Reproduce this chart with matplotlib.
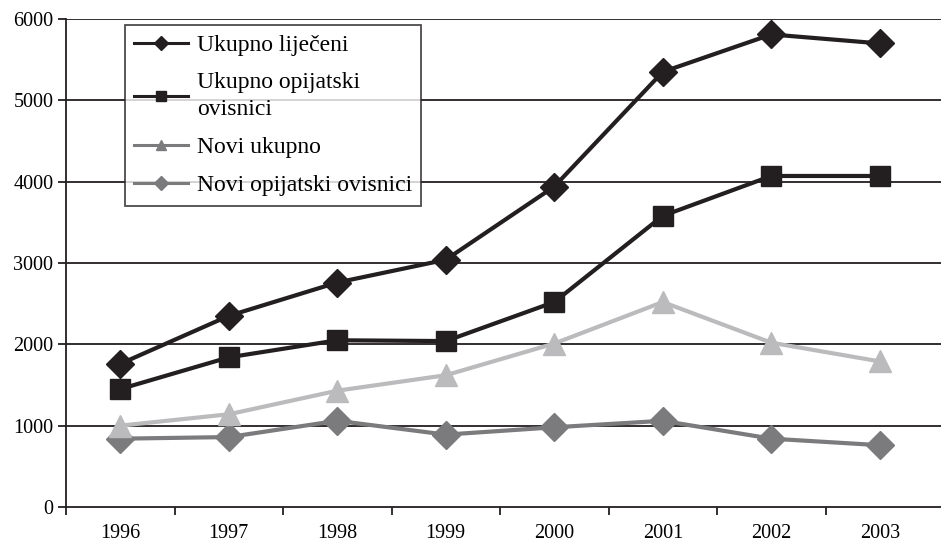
import matplotlib
matplotlib.use("Agg")
import matplotlib.pyplot as plt
from matplotlib.ticker import FixedLocator, NullFormatter
from matplotlib.lines import Line2D

years = ["1996", "1997", "1998", "1999", "2000", "2001", "2002", "2003"]
ukupno_lijeceni = [1760, 2350, 2760, 3040, 3940, 5350, 5810, 5700]
ukupno_opijatski = [1450, 1840, 2050, 2040, 2520, 3580, 4070, 4070]
novi_ukupno = [1000, 1140, 1430, 1620, 2010, 2520, 2020, 1790]
novi_opijatski = [840, 860, 1060, 890, 980, 1060, 840, 760]
yticks = [0, 1000, 2000, 3000, 4000, 5000, 6000]

plt.rcParams['font.family'] = ['Liberation Serif', 'DejaVu Serif']

fig = plt.figure(figsize=(9.41, 5.42), dpi=100)
ax = fig.add_axes([66/941, 1-507/542, 1-66/941, (507-19)/542])

black = '#231f20'
light = '#bbbbbd'
dark = '#7b7b7d'
x = list(range(len(years)))

for yv in yticks[1:]:
    ax.axhline(yv, color=black, lw=1.3, zorder=1)

lw = 3.0
ax.plot(x, novi_opijatski, color=dark, lw=lw, marker='D', ms=14, zorder=3)
ax.plot(x, novi_ukupno, color=light, lw=lw, marker='^', ms=16, zorder=3)
ax.plot(x, ukupno_opijatski, color=black, lw=lw, marker='s', ms=14, zorder=4)
ax.plot(x, ukupno_lijeceni, color=black, lw=lw, marker='D', ms=14, zorder=4)

handles = [
    Line2D([], [], color=black, lw=2.2, marker='D', ms=7),
    Line2D([], [], color=black, lw=2.2, marker='s', ms=7),
    Line2D([], [], color=dark, lw=2.2, marker='^', ms=7),
    Line2D([], [], color=dark, lw=2.2, marker='D', ms=7),
]
labels = ["Ukupno liječeni", "Ukupno opijatski\novisnici", "Novi ukupno", "Novi opijatski ovisnici"]
leg = ax.legend(handles, labels, loc='upper left', bbox_to_anchor=(0.067, 0.988),
                borderaxespad=0, fontsize=17, frameon=True, fancybox=False,
                edgecolor=black, handlelength=2.3, handletextpad=0.35,
                labelspacing=0.7, borderpad=0.4)
leg.get_texts()[1].set_linespacing(1.35)
leg.get_frame().set_linewidth(1.3)
leg.set_zorder(5)

ax.set_xlim(-0.5, 7.564)
ax.set_ylim(0, 6000)
ax.set_yticks(yticks)
ax.set_yticklabels([str(v) for v in yticks], fontsize=14.5)
ax.set_xticks(x)
ax.set_xticklabels(years, fontsize=14.5)
ax.tick_params(axis='x', which='major', length=0, pad=12)
ax.xaxis.set_minor_locator(FixedLocator([i + 0.5 for i in range(-1, 7)]))
ax.xaxis.set_minor_formatter(NullFormatter())
ax.tick_params(axis='x', which='minor', length=6, width=1.3, color=black, direction='out')
ax.tick_params(axis='y', length=6, width=1.3, color=black, direction='out', pad=3)

for s in ['top', 'right']:
    ax.spines[s].set_visible(False)
for s in ['left', 'bottom']:
    ax.spines[s].set_linewidth(1.3)
    ax.spines[s].set_color(black)

fig.savefig("out.png", dpi=100)
